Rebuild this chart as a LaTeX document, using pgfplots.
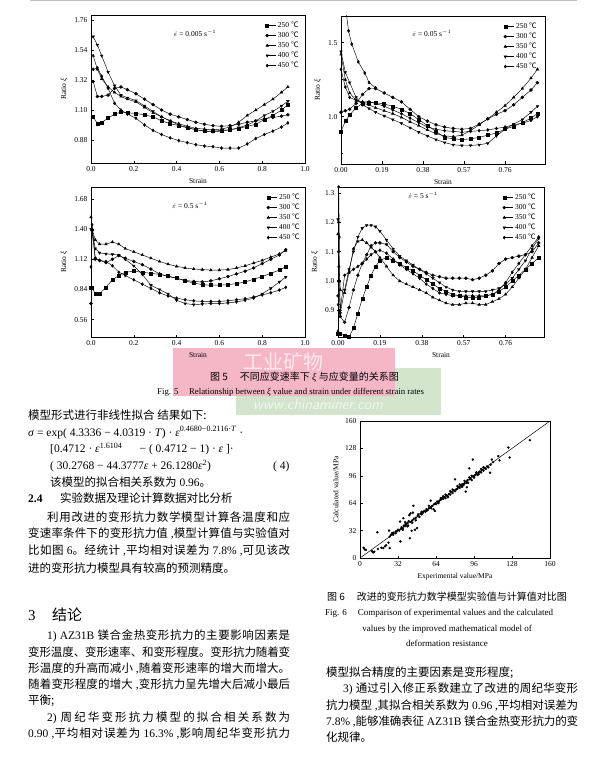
\documentclass[border=0pt]{standalone}
\usepackage{fontspec}
\setmainfont{Liberation Serif}
\newfontfamily\cjk{Noto Sans CJK SC}
\usepackage{pgfplots}
\pgfplotsset{compat=1.18}
\XeTeXlinebreaklocale "zh"
\XeTeXlinebreakskip=0pt plus 3pt minus 0.6pt
\newcommand\C[1]{{\cjk #1}}
\newcommand\dg{\C{℃}}
\definecolor{pinkbg}{RGB}{245,182,198}
\definecolor{greenbg}{RGB}{210,229,204}
% text line helpers: x, baseline y, (width), text
\newcommand\tl[3]{\node[anchor=base west,inner sep=0pt] at (#1pt,-#2pt) {#3};}
\newcommand\jl[4]{\node[anchor=base west,inner sep=0pt,text width=#3pt,align=justify] at (#1pt,-#2pt) {\parfillskip=0pt\emergencystretch=20pt #4\par};}

\pgfplotsset{
  strain/.style={
    scale only axis,
    axis line style={line width=0.6pt},
    tick align=inside, xtick pos=left, ytick pos=left,
    major tick length=2.5pt, minor tick length=1.5pt,
    tick style={black,line width=0.5pt},
    /pgf/number format/assume math mode=true,
    ticklabel style={font=\fontsize{7.5}{8}\selectfont},
    label style={font=\fontsize{7.5}{8}\selectfont},
    xlabel={Strain}, ylabel={Ratio \textit{ξ}},
    legend cell align=left,
    legend style={draw=none, fill=none, font=\fontsize{7.5}{8}\selectfont,
      anchor=north east, row sep=-1.2pt, inner sep=1pt},
    legend image code/.code={\draw[mark repeat=2,mark phase=1] plot coordinates {(0cm,0cm) (0.3cm,0cm)};},
    cycle list={
      {black,mark=square*},
      {black,mark=*},
      {black,mark=triangle*},
      {black,mark=triangle*,mark options={rotate=180}},
      {black,mark=diamond*}},
    every axis plot/.append style={line width=0.45pt, mark size=1.5pt},
  }
}

\begin{document}
\begin{tikzpicture}
\fill[white] (0,0) rectangle (612pt,-765pt);
\path[use as bounding box] (0,0) rectangle (612pt,-765pt);

% background boxes of the scan
\fill[greenbg] (236pt,-368pt) rectangle (441pt,-415pt);
\fill[pinkbg] (173pt,-348pt) rectangle (395pt,-396pt);
\node[text=white,opacity=0.7,font=\cjk\fontsize{20}{20}\selectfont] at (283pt,-362pt) {工业矿物};
\node[text=white,opacity=0.7,font=\sffamily\itshape\fontsize{15}{15}\selectfont] at (318pt,-404pt) {www.chinaminer.com};
\draw[gray!50,line width=1pt] (30pt,-1pt) -- (577pt,-1pt);

% ---------- (a) 0.005 s^-1
\begin{axis}[strain, at={(91pt,-163pt)}, anchor=south west, width=214pt, height=148pt,
  xmin=0, xmax=1, ymin=0.71, ymax=1.80,
  xtick={0,0.2,0.4,0.6,0.8,1.0}, ytick={0.88,1.10,1.32,1.54,1.76},
  xticklabel style={/pgf/number format/.cd,fixed,fixed zerofill,precision=1},
  yticklabel style={/pgf/number format/.cd,fixed,fixed zerofill,precision=2},
  legend style={at={(0.985,0.975)}}]
\addplot coordinates {(0.01,1.05)(0.03,1.00)(0.05,1.01)(0.08,1.04)(0.11,1.07)(0.14,1.085)(0.17,1.08)(0.21,1.075)(0.25,1.065)(0.29,1.05)(0.33,1.02)(0.37,1.00)(0.41,0.985)(0.45,0.97)(0.49,0.955)(0.53,0.945)(0.57,0.945)(0.61,0.95)(0.65,0.955)(0.69,0.965)(0.73,0.98)(0.77,0.995)(0.81,1.03)(0.85,1.06)(0.89,1.10)(0.92,1.14)};
\addplot coordinates {(0.01,1.31)(0.03,1.20)(0.05,1.20)(0.08,1.21)(0.11,1.26)(0.14,1.27)(0.17,1.25)(0.21,1.22)(0.25,1.18)(0.29,1.14)(0.33,1.10)(0.37,1.07)(0.41,1.05)(0.45,1.03)(0.49,1.01)(0.53,0.995)(0.57,0.985)(0.61,0.98)(0.65,0.985)(0.69,0.995)(0.73,1.01)(0.77,1.02)(0.81,1.035)(0.85,1.045)(0.89,1.055)(0.92,1.065)};
\addplot coordinates {(0.01,1.50)(0.03,1.40)(0.05,1.33)(0.08,1.27)(0.11,1.23)(0.14,1.20)(0.17,1.18)(0.21,1.16)(0.25,1.12)(0.29,1.08)(0.33,1.05)(0.37,1.02)(0.41,1.00)(0.45,0.98)(0.49,0.965)(0.53,0.96)(0.57,0.955)(0.61,0.96)(0.65,0.975)(0.69,1.01)(0.73,1.06)(0.77,1.10)(0.81,1.14)(0.85,1.18)(0.89,1.23)(0.92,1.27)};
\addplot coordinates {(0.01,1.64)(0.03,1.58)(0.05,1.50)(0.08,1.38)(0.11,1.28)(0.14,1.21)(0.17,1.19)(0.21,1.17)(0.25,1.13)(0.29,1.09)(0.33,1.05)(0.37,1.02)(0.41,0.99)(0.45,0.97)(0.49,0.955)(0.53,0.945)(0.57,0.94)(0.61,0.945)(0.65,0.955)(0.69,0.97)(0.73,0.99)(0.77,1.02)(0.81,1.06)(0.85,1.09)(0.89,1.13)(0.92,1.165)};
\addplot coordinates {(0.01,1.40)(0.03,1.41)(0.05,1.35)(0.08,1.26)(0.11,1.15)(0.14,1.10)(0.17,1.07)(0.21,1.04)(0.25,0.99)(0.29,0.95)(0.33,0.92)(0.37,0.895)(0.41,0.875)(0.45,0.86)(0.49,0.845)(0.53,0.835)(0.57,0.83)(0.61,0.82)(0.65,0.82)(0.69,0.82)(0.73,0.85)(0.77,0.89)(0.81,0.92)(0.85,0.945)(0.89,0.975)(0.92,1.005)};
\legend{250 \dg,300 \dg,350 \dg,400 \dg,450 \dg}
\node[font=\fontsize{7.5}{8}\selectfont] at (rel axis cs:0.486,0.878) {$\dot{\varepsilon}$ = 0.005 s$^{-1}$};
\end{axis}

% ---------- (b) 0.05 s^-1
\begin{axis}[strain, at={(341pt,-164pt)}, anchor=south west, width=204pt, height=148pt,
  xmin=0, xmax=0.945, ymin=0.68, ymax=1.68,
  xtick={0,0.19,0.38,0.57,0.76}, ytick={1.0,1.5}, minor ytick={0.75,1.25},
  xticklabel style={/pgf/number format/.cd,fixed,fixed zerofill,precision=2},
  yticklabel style={/pgf/number format/.cd,fixed,fixed zerofill,precision=1},
  legend style={at={(0.975,0.975)}}]
\addplot coordinates {(0,0.90)(0.02,0.97)(0.04,1.01)(0.07,1.06)(0.10,1.09)(0.13,1.095)(0.16,1.095)(0.20,1.085)(0.24,1.07)(0.28,1.05)(0.32,1.02)(0.36,0.98)(0.40,0.94)(0.44,0.90)(0.48,0.86)(0.52,0.85)(0.56,0.845)(0.60,0.85)(0.64,0.86)(0.68,0.875)(0.72,0.89)(0.76,0.915)(0.80,0.935)(0.84,0.96)(0.88,0.99)(0.91,1.02)};
\addplot coordinates {(0,1.03)(0.02,1.04)(0.04,1.05)(0.07,1.09)(0.10,1.15)(0.13,1.19)(0.16,1.19)(0.20,1.16)(0.24,1.13)(0.28,1.10)(0.32,1.05)(0.36,1.00)(0.40,0.97)(0.44,0.945)(0.48,0.93)(0.52,0.92)(0.56,0.915)(0.60,0.92)(0.64,0.95)(0.68,0.985)(0.72,1.015)(0.76,1.04)(0.80,1.08)(0.84,1.13)(0.88,1.18)(0.91,1.23)};
\addplot coordinates {(0,1.42)(0.02,1.25)(0.04,1.16)(0.07,1.11)(0.10,1.09)(0.13,1.08)(0.16,1.06)(0.20,1.04)(0.24,1.02)(0.28,0.995)(0.32,0.965)(0.36,0.94)(0.40,0.91)(0.44,0.885)(0.48,0.87)(0.52,0.865)(0.56,0.875)(0.60,0.905)(0.64,0.945)(0.68,0.985)(0.72,1.03)(0.76,1.075)(0.80,1.13)(0.84,1.19)(0.88,1.26)(0.91,1.32)};
\addplot coordinates {(0,1.44)(0.02,1.30)(0.04,1.23)(0.07,1.13)(0.10,1.08)(0.13,1.055)(0.16,1.03)(0.20,1.005)(0.24,0.98)(0.28,0.955)(0.32,0.925)(0.36,0.895)(0.40,0.87)(0.44,0.845)(0.48,0.825)(0.52,0.81)(0.56,0.805)(0.60,0.805)(0.64,0.81)(0.68,0.82)(0.72,0.87)(0.76,0.915)(0.80,0.95)(0.84,0.98)(0.88,1.03)(0.91,1.07)};
\addplot coordinates {(0,1.32)(0.02,1.20)(0.04,1.13)(0.07,1.11)(0.10,1.10)(0.13,1.10)(0.16,1.09)(0.20,1.07)(0.24,1.045)(0.28,1.02)(0.32,0.99)(0.36,0.96)(0.40,0.93)(0.44,0.915)(0.48,0.905)(0.52,0.90)(0.56,0.895)(0.60,0.90)(0.64,0.905)(0.68,0.91)(0.72,0.92)(0.76,0.93)(0.80,0.945)(0.84,0.955)(0.88,0.975)(0.91,1.0)};
\addplot[black, line width=0.45pt, mark=diamond*, mark size=1.5pt, forget plot] coordinates {(0.02,1.75)(0.035,1.58)(0.05,1.49)(0.08,1.37)(0.11,1.295)(0.13,1.23)(0.16,1.195)};
\legend{250 \dg,300 \dg,350 \dg,400 \dg,450 \dg}
\node[font=\fontsize{7.5}{8}\selectfont] at (rel axis cs:0.446,0.885) {$\dot{\varepsilon}$ = 0.05 s$^{-1}$};
\end{axis}

% ---------- (c) 0.5 s^-1
\begin{axis}[strain, at={(91pt,-337pt)}, anchor=south west, width=214pt, height=150pt,
  xmin=0, xmax=1, ymin=0.40, ymax=1.79,
  xtick={0,0.2,0.4,0.6,0.8,1.0}, ytick={0.56,0.84,1.12,1.40,1.68},
  xticklabel style={/pgf/number format/.cd,fixed,fixed zerofill,precision=1},
  yticklabel style={/pgf/number format/.cd,fixed,fixed zerofill,precision=2},
  legend style={at={(0.99,0.975)}}]
\addplot coordinates {(0,0.86)(0.005,0.86)(0.02,0.80)(0.04,0.80)(0.07,0.86)(0.10,0.93)(0.13,0.97)(0.16,1.00)(0.20,1.01)(0.24,1.00)(0.28,0.99)(0.32,0.98)(0.36,0.965)(0.40,0.945)(0.44,0.92)(0.48,0.90)(0.52,0.885)(0.56,0.88)(0.60,0.88)(0.64,0.885)(0.68,0.895)(0.72,0.91)(0.76,0.935)(0.80,0.96)(0.84,0.99)(0.88,1.02)(0.91,1.05)};
\addplot coordinates {(0,0.71)(0.005,1.39)(0.02,1.13)(0.04,1.11)(0.07,1.09)(0.10,1.12)(0.13,1.155)(0.16,1.13)(0.20,1.10)(0.24,1.07)(0.28,1.03)(0.32,0.985)(0.36,0.96)(0.40,0.945)(0.44,0.925)(0.48,0.915)(0.52,0.91)(0.56,0.92)(0.60,0.94)(0.64,0.96)(0.68,0.985)(0.72,1.01)(0.76,1.04)(0.80,1.08)(0.84,1.12)(0.88,1.16)(0.91,1.21)};
\addplot coordinates {(0,1.51)(0.005,1.40)(0.02,1.30)(0.04,1.26)(0.07,1.26)(0.10,1.28)(0.13,1.26)(0.16,1.22)(0.20,1.19)(0.24,1.16)(0.28,1.13)(0.32,1.10)(0.36,1.075)(0.40,1.055)(0.44,1.04)(0.48,1.03)(0.52,1.025)(0.56,1.02)(0.60,1.02)(0.64,1.025)(0.68,1.04)(0.72,1.06)(0.76,1.085)(0.80,1.11)(0.84,1.14)(0.88,1.17)(0.91,1.20)};
\addplot coordinates {(0,1.40)(0.005,1.38)(0.02,1.22)(0.04,1.18)(0.07,1.17)(0.10,1.165)(0.13,1.16)(0.16,1.12)(0.20,1.06)(0.24,0.98)(0.28,0.88)(0.32,0.84)(0.36,0.80)(0.40,0.74)(0.44,0.71)(0.48,0.70)(0.52,0.705)(0.56,0.71)(0.60,0.71)(0.64,0.715)(0.68,0.725)(0.72,0.74)(0.76,0.76)(0.80,0.80)(0.84,0.85)(0.88,0.91)(0.91,0.955)};
\addplot coordinates {(0,1.05)(0.005,1.44)(0.02,1.12)(0.04,1.11)(0.07,1.10)(0.10,1.06)(0.13,1.00)(0.16,0.97)(0.20,0.93)(0.24,0.89)(0.28,0.85)(0.32,0.81)(0.36,0.78)(0.40,0.76)(0.44,0.745)(0.48,0.735)(0.52,0.73)(0.56,0.73)(0.60,0.73)(0.64,0.735)(0.68,0.745)(0.72,0.755)(0.76,0.77)(0.80,0.79)(0.84,0.81)(0.88,0.835)(0.91,0.86)};
\legend{250 \dg,300 \dg,350 \dg,400 \dg,450 \dg}
\node[font=\fontsize{7.5}{8}\selectfont] at (rel axis cs:0.463,0.88) {$\dot{\varepsilon}$ = 0.5 s$^{-1}$};
\end{axis}

% ---------- (d) 5 s^-1
\begin{axis}[strain, at={(338pt,-337pt)}, anchor=south west, width=206pt, height=150pt,
  xmin=0, xmax=0.934, ymin=0.81, ymax=1.32,
  xtick={0,0.19,0.38,0.57,0.76}, ytick={0.9,1.0,1.1,1.2,1.3},
  xticklabel style={/pgf/number format/.cd,fixed,fixed zerofill,precision=2},
  yticklabel style={/pgf/number format/.cd,fixed,fixed zerofill,precision=1},
  legend style={at={(0.975,0.975)}}]
\addplot coordinates {(0,0.82)(0.004,0.82)(0.01,0.82)(0.03,0.815)(0.05,0.81)(0.07,0.84)(0.09,0.89)(0.11,0.94)(0.13,0.98)(0.15,1.02)(0.17,1.05)(0.19,1.07)(0.22,1.08)(0.25,1.07)(0.28,1.06)(0.31,1.045)(0.34,1.035)(0.37,1.02)(0.40,1.005)(0.43,0.99)(0.46,0.975)(0.49,0.965)(0.52,0.955)(0.55,0.95)(0.58,0.945)(0.61,0.945)(0.64,0.945)(0.67,0.95)(0.70,0.955)(0.73,0.965)(0.76,0.98)(0.79,1.0)(0.82,1.02)(0.85,1.04)(0.88,1.06)(0.91,1.08)};
\addplot coordinates {(0,0.95)(0.004,0.90)(0.01,0.88)(0.03,0.86)(0.05,0.91)(0.07,0.97)(0.09,1.02)(0.11,1.06)(0.13,1.09)(0.15,1.12)(0.17,1.13)(0.19,1.13)(0.22,1.125)(0.25,1.10)(0.28,1.08)(0.31,1.065)(0.34,1.05)(0.37,1.04)(0.40,1.03)(0.43,1.02)(0.46,1.015)(0.49,1.01)(0.52,1.01)(0.55,1.01)(0.58,1.01)(0.61,1.005)(0.64,1.01)(0.67,1.02)(0.70,1.035)(0.73,1.06)(0.76,1.075)(0.79,1.08)(0.82,1.085)(0.85,1.09)(0.88,1.10)(0.91,1.13)};
\addplot coordinates {(0,1.16)(0.004,1.05)(0.01,0.97)(0.03,0.96)(0.05,1.03)(0.07,1.11)(0.09,1.135)(0.11,1.14)(0.13,1.13)(0.15,1.115)(0.17,1.10)(0.19,1.08)(0.22,1.05)(0.25,1.02)(0.28,1.0)(0.31,0.99)(0.34,0.98)(0.37,0.97)(0.40,0.96)(0.43,0.945)(0.46,0.935)(0.49,0.925)(0.52,0.92)(0.55,0.92)(0.58,0.925)(0.61,0.925)(0.64,0.92)(0.67,0.92)(0.70,0.93)(0.73,0.94)(0.76,0.955)(0.79,0.98)(0.82,1.01)(0.85,1.04)(0.88,1.08)(0.91,1.12)};
\addplot coordinates {(0,1.21)(0.004,1.00)(0.01,0.89)(0.03,0.97)(0.05,1.04)(0.07,1.10)(0.09,1.15)(0.11,1.18)(0.13,1.19)(0.15,1.19)(0.17,1.185)(0.19,1.17)(0.22,1.14)(0.25,1.11)(0.28,1.085)(0.31,1.07)(0.34,1.055)(0.37,1.04)(0.40,1.025)(0.43,1.01)(0.46,0.995)(0.49,0.98)(0.52,0.97)(0.55,0.965)(0.58,0.965)(0.61,0.965)(0.64,0.965)(0.67,0.965)(0.70,0.97)(0.73,0.975)(0.76,0.99)(0.79,1.01)(0.82,1.04)(0.85,1.07)(0.88,1.11)(0.91,1.145)};
\addplot coordinates {(0,0.83)(0.001,0.92)(0.001,1.0)(0.002,1.1)(0.002,1.2)(0.003,1.32)(0.006,1.15)(0.008,1.0)(0.01,0.90)(0.03,1.02)(0.05,1.03)(0.07,1.04)(0.09,1.05)(0.11,1.06)(0.13,1.075)(0.15,1.09)(0.17,1.10)(0.19,1.105)(0.22,1.095)(0.25,1.075)(0.28,1.055)(0.31,1.04)(0.34,1.025)(0.37,1.01)(0.40,0.99)(0.43,0.975)(0.46,0.96)(0.49,0.955)(0.52,0.95)(0.55,0.95)(0.58,0.95)(0.61,0.95)(0.64,0.95)(0.67,0.95)(0.70,0.955)(0.73,0.97)(0.76,0.995)(0.79,1.03)(0.82,1.06)(0.85,1.09)(0.88,1.12)(0.91,1.15)};
\legend{250 \dg,300 \dg,350 \dg,400 \dg,450 \dg}
\node[font=\fontsize{7.5}{8}\selectfont] at (rel axis cs:0.413,0.947) {$\dot{\varepsilon}$ = 5 s$^{-1}$};
\end{axis}

% ---------- Fig. 6 scatter
\begin{axis}[scale only axis, at={(360pt,-558pt)}, anchor=south west, width=190pt, height=137pt,
  xmin=0, xmax=160, ymin=0, ymax=160,
  xtick={0,32,64,96,128,160}, ytick={0,32,64,96,128,160},
  tick align=inside, xtick pos=left, ytick pos=left, major tick length=2.5pt,
  axis line style={line width=0.6pt}, tick style={black,line width=0.5pt},
  /pgf/number format/assume math mode=true,
  ticklabel style={font=\fontsize{7.5}{8}\selectfont},
  label style={font=\fontsize{7.5}{8}\selectfont},
  xlabel={Experimental value/MPa}, ylabel={Calculated value/MPa}]
\addplot[black, line width=0.5pt] coordinates {(0,0) (160,160)};
\addplot[only marks, mark=*, mark size=1pt, black] coordinates {
(3,12)(4,10)(5,9.5)(10,8)(11,6.5)(12,7.5)(15,10.5)(14.6,30)(18,12)(19.6,11.6)(21,13.6)(22,15)(24,18)(25,11.6)(25,25)(26,27)(24.5,32)(27,29)(28,29.5)(30,29)(31,31)(32,33)(33,32)(33.7,42.6)(34,19.4)(34.5,34)(35,36)(36,35)(36.5,46.5)(37,38)(38,37)(38.5,40)(39,39)(40,41)(40.5,38)(41,43)(42,23)(41.5,50)(42.5,52)(43,42)(43.5,31.8)(44,44)(44.5,53)(45,61)(45.5,46)(46.3,33)(47,47)(48,35)(48.5,49)(49,51)(50,48)(51,52)(52,51)(53,53)(54,55)(55,54)(56,57)(57,56)(58,58)(59.5,67)(59,59)(60,60)(61,61)(62,57)(63,55)(62.5,63)(63.5,64)(64,63)(65,66)(66,65)(67,67)(68,68)(69,70)(70,69)(71,71)(72,70)(73,73)(74,72)(75,75)(76,74)(77,77)(78,76)(79,79)(80,91.9)(80,78)(81,80)(82,81)(83,83)(84,82)(85,84)(86,86)(87,85)(88,87)(89,77.5)(90,82.6)(89.5,89)(90.5,91)(91,88)(92,104.6)(92.5,92)(93,93)(94,91)(95,115)(95.5,95)(96,96)(97,97)(98,98)(99,97)(100,100)(101,101)(102,100)(103,103)(104,102)(105,105)(106,104)(107,107)(108,106)(109.5,99.6)(110,109)(111,115)(112,112)(116.5,119)(117.5,114)(125,129)(126,117.4)(143,137.6)
(66,64)(68,70)(70,72)(72,74)(74,71)(76,78)(78,80)(82,84)(84,86)(86,83)(88,90)(90,88)(92,94)(94,96)(96,94)(98,100)(100,98)(102,104)(104,106)(47,44)(52,54)(56,55)(58,61)(60,58)(36,33)(30,31)(28,27)(38,42)(40,37)(44,41)};
\end{axis}

% ---------- captions
\node[anchor=base west,inner sep=0pt,font=\cjk\fontsize{10}{12}\selectfont] at (210pt,-380pt) {图 5\hspace{1.2em}不同应变速率下 {\rmfamily\itshape ξ} 与应变量的关系图};
\node[anchor=base west,inner sep=0pt,font=\fontsize{8.8}{10}\selectfont] at (157pt,-394pt) {Fig. 5\hspace{1.2em}Relationship between \textit{ξ} value and strain under different strain rates};
\node[anchor=base west,inner sep=0pt,font=\cjk\fontsize{10}{12}\selectfont] at (327pt,-600pt) {图 6\hspace{1.2em}改进的变形抗力数学模型实验值与计算值对比图};
\begin{scope}[font=\fontsize{9}{10}\selectfont]
\node[anchor=base west,inner sep=0pt] at (325pt,-615.5pt) {Fig. 6\hspace{1.2em}Comparison of experimental values and the calculated};
\node[anchor=base,inner sep=0pt] at (447pt,-631pt) {values by the improved mathematical model of};
\node[anchor=base,inner sep=0pt] at (447pt,-646pt) {deformation resistance};
\end{scope}

% ---------- body text
\begin{scope}[font=\fontsize{11.5}{13}\selectfont]
\tl{28}{419}{\C{模型形式进行非线性拟合 结果如下:}}
\tl{28}{436}{\textit{σ} = exp( 4.3336 − 4.0319 · \textit{T}) · \textit{ε}\textsuperscript{0.4680−0.2116·\textit{T}} ·}
\tl{50}{452.5}{[0.4712 · \textit{ε}\textsuperscript{1.6104}\hspace{1.5em}− ( 0.4712 − 1) · \textit{ε} ]·}
\tl{50}{469.5}{( 30.2768 − 44.3777\textit{ε} + 26.1280\textit{ε}\textsuperscript{2})}
\tl{273}{469.5}{( 4)}
\tl{50}{486}{\C{该模型的拟合相关系数为} 0.96\C{。}}
\tl{28}{502.5}{\textbf{2.4}}
\tl{60}{502.5}{\C{实验数据及理论计算数据对比分析}}
\jl{47}{521}{243}{\C{利用改进的变形抗力数学模型计算各温度和应}}
\jl{28}{537.5}{262}{\C{变速率条件下的变形抗力值} ,\C{模型计算值与实验值对}}
\jl{28}{554.5}{262}{\C{比如图} 6\C{。经统计} ,\C{平均相对误差为} 7.8\% ,\C{可见该改}}
\tl{28}{572.5}{\C{进的变形抗力模型具有较高的预测精度。}}
\node[anchor=base west,inner sep=0pt,font=\fontsize{15}{16}\selectfont] at (28pt,-620pt) {3};
\node[anchor=base west,inner sep=0pt,font=\cjk\fontsize{15}{16}\selectfont] at (52pt,-620pt) {结论};
\jl{47}{639.5}{243}{1) AZ31B \C{镁合金热变形抗力的主要影响因素是}}
\jl{28}{656}{262}{\C{变形温度、变形速率、和变形程度。变形抗力随着变}}
\jl{28}{672}{262}{\C{形温度的升高而减小} ,\C{随着变形速率的增大而增大。}}
\jl{28}{688.5}{262}{\C{随着变形程度的增大} ,\C{变形抗力呈先增大后减小最后}}
\tl{28}{704.5}{\C{平衡;}}
\jl{47}{721}{243}{2) \C{周纪华变形抗力模型的拟合相关系数为}}
\jl{28}{737.5}{262}{0.90 ,\C{平均相对误差为} 16.3\% ,\C{影响周纪华变形抗力}}
\tl{326}{676}{\C{模型拟合精度的主要因素是变形程度;}}
\jl{343}{692.5}{235}{3) \C{通过引入修正系数建立了改进的周纪华变形}}
\jl{326}{709.5}{252}{\C{抗力模型} ,\C{其拟合相关系数为} 0.96 ,\C{平均相对误差为}}
\jl{326}{725}{252}{7.8\% ,\C{能够准确表征} AZ31B \C{镁合金热变形抗力的变}}
\tl{326}{741.5}{\C{化规律。}}
\end{scope}
\end{tikzpicture}
\end{document}
